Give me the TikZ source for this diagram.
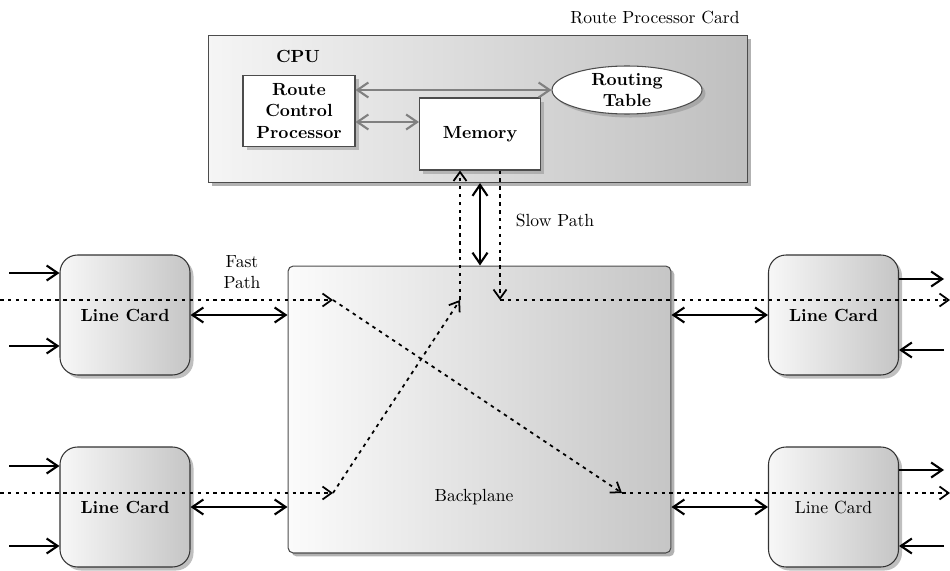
\documentclass[tikz,border=0pt]{standalone}
\usetikzlibrary{shapes.geometric,shadows,arrows.meta}

\begin{document}
\begin{tikzpicture}[x=0.02cm, y=-0.02cm,
    card/.style={draw=black!70, line width=0.6pt, left color=gray!8, right color=gray!50,
      drop shadow={shadow xshift=2pt, shadow yshift=-2pt, fill=black!60}},
    whitebox/.style={draw=black!70, line width=0.6pt, fill=white, align=center, font=\bfseries,
      drop shadow={shadow xshift=2pt, shadow yshift=-2pt, fill=black!45}},
    linecard/.style={draw=black!80, line width=0.6pt, rounded corners=0.35cm,
      left color=gray!6, right color=gray!45, minimum width=2.6cm, minimum height=2.4cm,
      drop shadow={shadow xshift=2pt, shadow yshift=-2pt, fill=black!50}},
    solid arrow/.style={line width=1.2pt, -{Straight Barb[length=2.2mm, width=3mm]}},
    both arrow/.style={line width=1.2pt, {Straight Barb[length=2.2mm, width=3mm]}-{Straight Barb[length=2.2mm, width=3mm]}},
    grey arrow/.style={gray, line width=1.2pt, {Straight Barb[length=2.2mm, width=3mm]}-{Straight Barb[length=2.2mm, width=3mm]}},
    fast/.style={line width=1pt, dash pattern=on 2pt off 2.5pt, -{Straight Barb[length=1.8mm, width=2.6mm]}}]

  \useasboundingbox (0,0) rectangle (950,571);

  % route processor card
  \node[card, minimum width=10.8cm, minimum height=2.94cm] (rpcard) at (478,109) {};
  \node (rplabel) at (655,18) {Route Processor Card};
  \node[font=\bfseries] (cpu) at (298,56) {CPU};

  \node[whitebox, minimum width=2.24cm, minimum height=1.42cm] (rcp) at (299,111)
    {Route\\Control\\Processor};
  \node[whitebox, minimum width=2.42cm, minimum height=1.44cm] (mem) at (480,134) {Memory};
  \node[whitebox, ellipse, minimum width=3.0cm, minimum height=0.96cm, inner sep=0pt] (rt) at (627,90)
    {Routing\\Table};

  \draw[grey arrow] (rcp.east |- rt.west) -- (rt.west);
  \draw[grey arrow] ([yshift=-0.22cm]rcp.east) -- ([yshift=-0.22cm]rcp.east -| mem.west);

  % backplane
  \node[card, rounded corners=3pt, left color=gray!3, right color=gray!45,
    minimum width=7.66cm, minimum height=5.74cm] (bp) at (479.5,409.5) {};
  \node (bplabel) at (474,497) {Backplane};

  % line cards
  \node[linecard, font=\bfseries] (lcA) at (125,315) {Line Card};
  \node[linecard, font=\bfseries] (lcB) at (125,507) {Line Card};
  \node[linecard, font=\bfseries] (lcC) at (833.5,315) {Line Card};
  \node[linecard] (lcD) at (833.5,507) {Line Card};

  % ports
  \draw[solid arrow] ([xshift=-1cm, yshift=0.84cm]lcA.west) -- ([yshift=0.84cm]lcA.west);
  \draw[solid arrow] ([xshift=-1cm, yshift=-0.62cm]lcA.west) -- ([yshift=-0.62cm]lcA.west);
  \draw[solid arrow] ([xshift=-1cm, yshift=0.82cm]lcB.west) -- ([yshift=0.82cm]lcB.west);
  \draw[solid arrow] ([xshift=-1cm, yshift=-0.78cm]lcB.west) -- ([yshift=-0.78cm]lcB.west);
  \draw[solid arrow] ([yshift=0.72cm]lcC.east) -- ([xshift=0.9cm, yshift=0.72cm]lcC.east);
  \draw[solid arrow] ([xshift=0.9cm, yshift=-0.7cm]lcC.east) -- ([yshift=-0.7cm]lcC.east);
  \draw[solid arrow] ([yshift=0.74cm]lcD.east) -- ([xshift=0.9cm, yshift=0.74cm]lcD.east);
  \draw[solid arrow] ([xshift=0.9cm, yshift=-0.78cm]lcD.east) -- ([yshift=-0.78cm]lcD.east);

  % card to backplane
  \draw[both arrow] (lcA.east) -- (lcA.east -| bp.west);
  \draw[both arrow] (lcB.east) -- (lcB.east -| bp.west);
  \draw[both arrow] (bp.east |- lcC.west) -- (lcC.west);
  \draw[both arrow] (bp.east |- lcD.west) -- (lcD.west);

  % slow path link
  \draw[both arrow] (mem.south |- rpcard.south) -- (mem.south |- bp.north);
  \node (slow) at (555,220) {Slow Path};
  \node[align=center] (fastlbl) at (242,272) {Fast\\Path};

  % packet paths
  \coordinate (inTL) at (0,300);
  \coordinate (inBL) at (0,493);
  \coordinate (outTR) at (950,300);
  \coordinate (outBR) at (950,493);
  \coordinate (ftl) at (333,300);
  \coordinate (fbl) at (333,493);
  \coordinate (fbr) at (622,493);
  \coordinate (up) at (460,300);
  \coordinate (dn) at (500,300);

  \draw[fast] (inTL) -- (ftl);
  \draw[fast] (ftl) -- (fbr);
  \draw[fast] (fbr) -- (outBR);
  \draw[fast] (inBL) -- (fbl);
  \draw[fast] (fbl) -- (up);
  \draw[fast] (up) -- (up |- mem.south);
  \draw[fast] (dn |- mem.south) -- (dn);
  \draw[fast] (dn) -- (outTR);

\end{tikzpicture}
\end{document}
